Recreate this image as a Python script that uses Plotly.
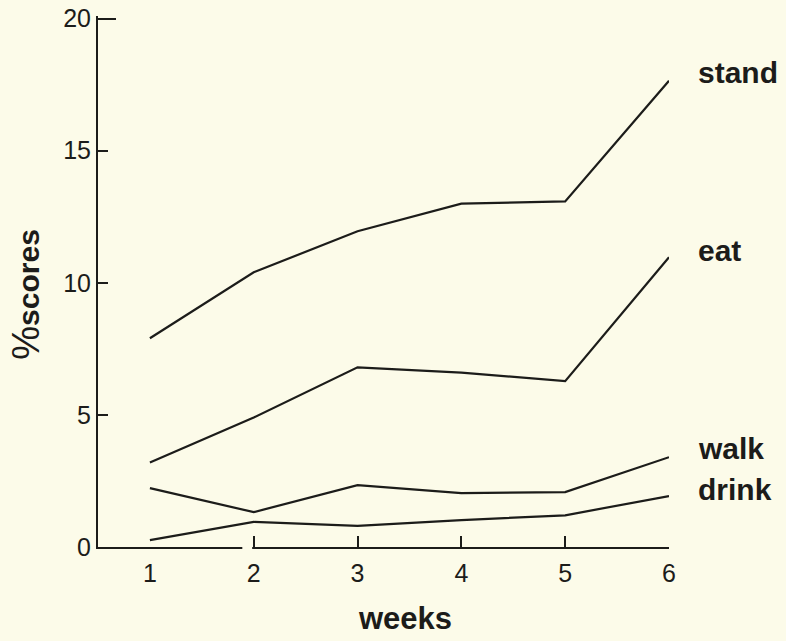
import plotly.graph_objects as go

BG = "#fcfbe9"
INK = "#1c1c1a"
FONT = "Liberation Sans, Arial, sans-serif"

# -------------------------------------------------
# Data
# -------------------------------------------------
weeks = [1, 2, 3, 4, 5, 6]
stand = [7.9, 10.4, 11.95, 13.0, 13.08, 17.65]
eat = [3.2, 4.9, 6.8, 6.6, 6.28, 10.97]
walk = [2.23, 1.32, 2.34, 2.04, 2.08, 3.4]
drink = [0.26, 0.95, 0.8, 1.02, 1.2, 1.93]

series = [("stand", stand), ("eat", eat), ("walk", walk), ("drink", drink)]
label_y = {"stand": 17.96, "eat": 11.23, "walk": 3.74, "drink": 2.16}

y_ticks = [0, 5, 10, 15, 20]
x_tick_marks = [2, 3, 4, 5, 6]

fig = go.Figure()

for name, vals in series:
    fig.add_trace(
        go.Scatter(
            x=weeks,
            y=vals,
            mode="lines",
            name=name,
            line=dict(color=INK, width=2.2),
            cliponaxis=False,
        )
    )
    fig.add_annotation(
        x=1.0,
        xref="paper",
        y=label_y[name],
        yref="y",
        text=f"<b>{name}</b>",
        showarrow=False,
        xanchor="left",
        xshift=27,
        font=dict(family=FONT, size=30, color=INK),
    )

# invisible trace so the tick-only overlay axes get drawn
fig.add_trace(
    go.Scatter(x=x_tick_marks, y=[0] * 5, xaxis="x2", yaxis="y2", mode="markers",
               marker=dict(opacity=0), hoverinfo="skip", showlegend=False)
)

# small break in the baseline just before week 2
fig.add_shape(
    type="rect", xref="x", yref="paper",
    x0=weeks[1] - 0.11, x1=weeks[1] - 0.015, y0=-0.01, y1=0.01,
    fillcolor=BG, line=dict(width=0), layer="above",
)

# axis titles
fig.add_annotation(
    x=0, xref="paper", xshift=-72,
    y=9.55, yref="y",
    text="<span style='font-weight:normal;font-size:38px'>%</span><b>scores</b>",
    textangle=-90,
    showarrow=False,
    xanchor="center", yanchor="middle",
    font=dict(family=FONT, size=30, color=INK),
)
fig.add_annotation(
    x=0.538, xref="paper",
    y=0, yref="paper", yshift=-71,
    text="<b>weeks</b>",
    showarrow=False,
    xanchor="center", yanchor="middle",
    font=dict(family=FONT, size=31, color=INK),
)

fig.update_layout(
    width=786,
    height=641,
    paper_bgcolor=BG,
    plot_bgcolor=BG,
    showlegend=False,
    margin=dict(l=98, r=117, t=16, b=94, autoexpand=False),
    font=dict(family=FONT, size=25, color=INK),
    xaxis=dict(
        range=[0.5, 6],
        tickvals=weeks,
        ticks="",
        showline=True,
        linecolor=INK,
        linewidth=2,
        showgrid=False,
        zeroline=False,
        tickfont=dict(size=25),
        ticklabelstandoff=3,
    ),
    xaxis2=dict(
        range=[0.5, 6],
        overlaying="x",
        side="bottom",
        tickvals=x_tick_marks,
        ticks="inside",
        ticklen=11,
        tickwidth=2,
        tickcolor=INK,
        showticklabels=False,
        showline=False,
        showgrid=False,
        zeroline=False,
    ),
    yaxis=dict(
        range=[0, 20.1],
        tickvals=y_ticks,
        ticks="inside",
        ticklen=10,
        tickwidth=2,
        tickcolor=INK,
        showline=True,
        linecolor=INK,
        linewidth=2,
        showgrid=False,
        zeroline=False,
        tickfont=dict(size=25),
    ),
    yaxis2=dict(
        range=[0, 20.1],
        overlaying="y",
        side="left",
        tickvals=[y_ticks[-1]],
        ticks="inside",
        ticklen=18,
        tickwidth=2,
        tickcolor=INK,
        showticklabels=False,
        showline=False,
        showgrid=False,
        zeroline=False,
    ),
)

fig.write_html(
    "out.html",
    config={"displayModeBar": False},
    post_script="document.body.style.margin='0';",
)
